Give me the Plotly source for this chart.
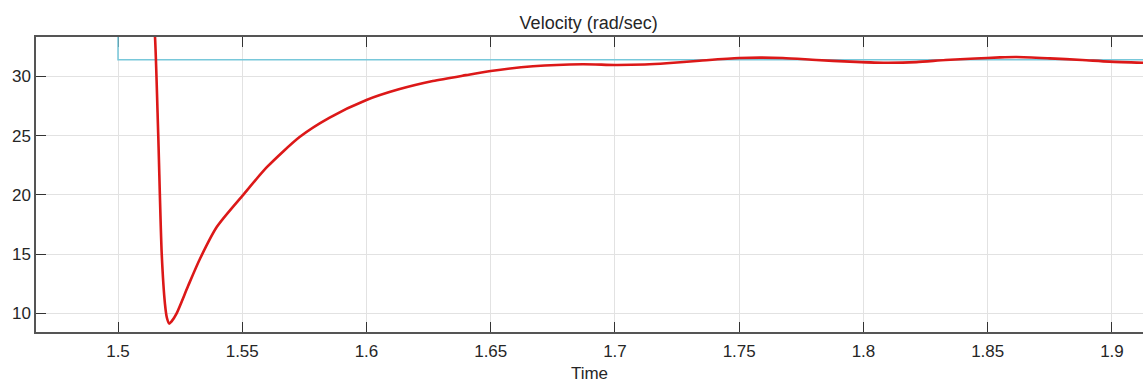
import plotly.graph_objects as go

# Reference speed command (rad/sec): step down at t = 1.5 s
ref_t = [1.44, 1.5, 1.5, 1.93]
ref_v = [40.0, 40.0, 31.4, 31.4]

# Measured rotor speed (rad/sec)
vel_t = [1.5140, 1.5149, 1.5162, 1.5176, 1.5189, 1.5197,
         1.5206, 1.5215, 1.5236, 1.5282, 1.5330, 1.5398, 1.5504, 1.5600, 1.5732,
         1.5850, 1.6000, 1.6130, 1.6267, 1.6400, 1.6500, 1.6670, 1.6870, 1.7000,
         1.7120, 1.7208, 1.7340, 1.7500, 1.7675, 1.7810, 1.7945, 1.8080, 1.8213,
         1.8330, 1.8450, 1.8550, 1.8616, 1.8750, 1.8880, 1.8990, 1.9125]
vel_v = [35.5, 33.3, 25.0, 15.0, 10.8, 9.6,
         9.13, 9.3, 10.0, 12.3, 14.6, 17.3, 20.0, 22.35, 24.9,
         26.5, 28.0, 28.9, 29.6, 30.1, 30.45, 30.85, 31.02, 30.96,
         31.0, 31.1, 31.32, 31.55, 31.55, 31.38, 31.24, 31.15, 31.2,
         31.38, 31.5, 31.6, 31.63, 31.52, 31.38, 31.24, 31.15]

x_ticks = [1.5, 1.55, 1.6, 1.65, 1.7, 1.75, 1.8, 1.85, 1.9]
x_tick_text = ["1.5", "1.55", "1.6", "1.65", "1.7", "1.75", "1.8", "1.85", "1.9"]
y_ticks = [10, 15, 20, 25, 30]

fig = go.Figure()
fig.add_trace(go.Scatter(x=ref_t, y=ref_v, mode="lines",
                         line=dict(color="#78c8da", width=1.5), showlegend=False))
fig.add_trace(go.Scatter(x=vel_t, y=vel_v, mode="lines",
                         line=dict(color="#dc1818", width=2.6, shape="spline", smoothing=0.7),
                         showlegend=False))

axis_font = dict(family="Liberation Sans, Arial, sans-serif", size=17, color="#262626")

fig.update_layout(
    width=1143, height=383,
    margin=dict(l=36, r=0, t=37, b=51),
    paper_bgcolor="white", plot_bgcolor="white",
    title=dict(text="Velocity (rad/sec)", x=0.515, xanchor="center", y=0.94, yanchor="middle",
               font=dict(family="Liberation Sans, Arial, sans-serif", size=18, color="#262626")),
    xaxis=dict(range=[1.467, 1.9125], tickvals=x_ticks, ticktext=x_tick_text,
               ticks="inside", ticklen=10, tickcolor="#333333", tickwidth=1,
               showline=True, linecolor="#555555", linewidth=1.5, mirror="ticks",
               showgrid=True, gridcolor="#e2e2e2", gridwidth=1, zeroline=False,
               layer="below traces", ticklabelstandoff=3,
               tickfont=axis_font,
               title=dict(text="Time", font=axis_font, standoff=8)),
    yaxis=dict(range=[8.42, 33.32], tickvals=y_ticks,
               ticks="inside", ticklen=10, tickcolor="#333333", tickwidth=1,
               showline=True, linecolor="#555555", linewidth=1.5, mirror=False,
               showgrid=True, gridcolor="#e2e2e2", gridwidth=1, zeroline=False,
               layer="below traces",
               tickfont=axis_font),
)

fig.write_html("out.html")
